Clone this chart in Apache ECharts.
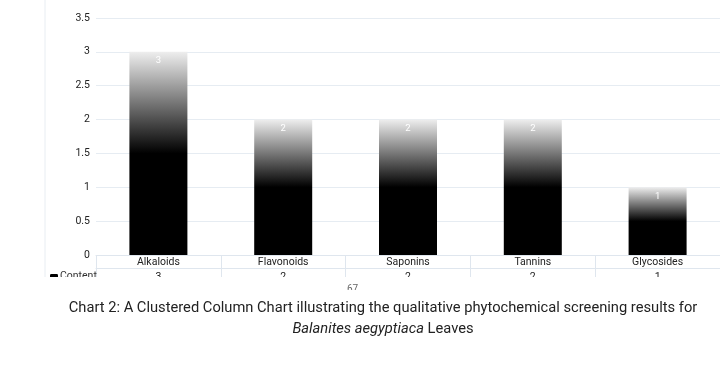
<!DOCTYPE html>
<html><head><meta charset="utf-8">
<script src="https://cdn.jsdelivr.net/npm/echarts@6/dist/echarts.min.js"></script>
<style>html,body{margin:0;padding:0;background:#fff}#c{width:720px;height:386px}</style>
</head><body><div id="c"></div>
<script>
const categories = ['Alkaloids','Flavonoids','Saponins','Tannins','Glycosides'];
const contentValues = [3,2,2,2,1];
const seriesName = 'Content';
const yTicks = {min:0, max:3.5, interval:0.5};

const chart = echarts.init(document.getElementById('c'));
const grad = new echarts.graphic.LinearGradient(0,0,0,1,[
  {offset:0,color:'#eeeeee'},{offset:0.5,color:'#000'},{offset:1,color:'#000'}]);
chart.setOption({
  animation:false,
  textStyle:{fontFamily:'Roboto'},
  grid:{left:96,right:-4,top:18,bottom:131},
  legend:{show:true,data:[{name:seriesName,itemStyle:{color:'#000'}}],left:50,top:271,itemWidth:8,itemHeight:5,itemGap:2,
    textStyle:{fontSize:10.5,color:'#333',padding:[0,0,0,-3]},padding:0,selectedMode:false},
  xAxis:[{
    type:'category',data:categories,position:'bottom',
    axisLine:{show:true,lineStyle:{color:'#dfe6ee'}},
    axisTick:{show:true,length:23,lineStyle:{color:'#dfe6ee'}},
    axisLabel:{color:'#222',fontSize:10.5,margin:2},
    splitLine:{show:false}
  },{
    type:'category',data:categories,position:'bottom',offset:13,
    axisLine:{show:true,lineStyle:{color:'#dfe6ee'}},
    axisTick:{show:false},
    axisLabel:{color:'#222',fontSize:10.5,margin:4,formatter:(v,i)=>String(contentValues[i])}
  }],
  yAxis:{type:'value',min:yTicks.min,max:yTicks.max,interval:yTicks.interval,
    axisLine:{show:false},axisTick:{show:false},
    axisLabel:{color:'#222',fontSize:10.5,margin:6},
    splitLine:{lineStyle:{color:'#e6ecf2'}}},
  series:[{name:seriesName,type:'bar',data:contentValues,barWidth:58,
    itemStyle:{color:grad},
    label:{show:true,position:'insideTop',distance:4,color:'#ffffff',fontSize:9.5}}],
  graphic:[
    {type:'line',z:50,shape:{x1:45,y1:0,x2:45,y2:278},style:{stroke:'#e8edf2',lineWidth:1}},
    {type:'rect',z:100,shape:{x:0,y:277,width:720,height:13},style:{fill:'#fff'}},
    {type:'text',z:101,x:347,y:284,style:{text:'67',fontSize:10,fill:'#666',fontFamily:'Roboto'}},
    {type:'rect',z:102,shape:{x:330,y:290,width:60,height:10},style:{fill:'#fff'}},
    {type:'text',z:103,x:383,y:301,style:{text:'Chart 2: A Clustered Column Chart illustrating the qualitative phytochemical screening results for',
      align:'center',fontSize:14.7,fontFamily:'Roboto',fill:'#222'}},
    {type:'text',z:103,x:383,y:322,style:{text:'{i|Balanites aegyptiaca} Leaves',align:'center',fontSize:14.7,fontFamily:'Roboto',fill:'#222',
      rich:{i:{fontSize:14.7,fontFamily:'Roboto',fontStyle:'italic',fill:'#222'}}}}
  ]
});
</script></body></html>
